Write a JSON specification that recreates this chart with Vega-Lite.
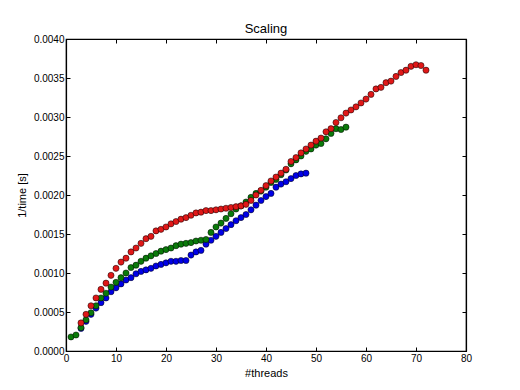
{
  "$schema": "https://vega.github.io/schema/vega-lite/v6.json",
  "autosize": {"type": "none"},
  "width": 400,
  "height": 312,
  "padding": {"left": 66, "top": 39, "right": 54, "bottom": 39},
  "background": "white",
  "title": {"text": "Scaling", "font": "Liberation Sans", "fontSize": 13, "fontWeight": "normal", "color": "#000", "offset": -2},
  "config": {
    "view": {"stroke": "#000", "strokeWidth": 1.2},
    "axis": {"grid": false, "domainColor": "#000", "tickColor": "#000", "labelColor": "#000", "titleColor": "#000",
             "labelFont": "Liberation Sans", "titleFont": "Liberation Sans", "labelFontSize": 10, "titleFontSize": 11,
             "titleFontWeight": "normal", "tickSize": -4, "domain": true, "domainWidth": 1.2}
  },
  "data": {"values": [
    {"s":"b","t":3,"v":0.00029},{"s":"b","t":4,"v":0.00038},{"s":"b","t":5,"v":0.00047},{"s":"b","t":6,"v":0.00055},{"s":"b","t":7,"v":0.00062},{"s":"b","t":8,"v":0.00068},{"s":"b","t":9,"v":0.00076},{"s":"b","t":10,"v":0.00081},{"s":"b","t":11,"v":0.00086},{"s":"b","t":12,"v":0.00091},{"s":"b","t":13,"v":0.00094},{"s":"b","t":14,"v":0.00099},{"s":"b","t":15,"v":0.00102},{"s":"b","t":16,"v":0.00104},{"s":"b","t":17,"v":0.00106},{"s":"b","t":18,"v":0.00109},{"s":"b","t":19,"v":0.00111},{"s":"b","t":20,"v":0.00113},{"s":"b","t":21,"v":0.00115},{"s":"b","t":22,"v":0.00115},{"s":"b","t":23,"v":0.00116},{"s":"b","t":24,"v":0.00116},{"s":"b","t":25,"v":0.00123},{"s":"b","t":26,"v":0.00127},{"s":"b","t":27,"v":0.00129},{"s":"b","t":28,"v":0.00137},{"s":"b","t":29,"v":0.00142},{"s":"b","t":30,"v":0.00147},{"s":"b","t":31,"v":0.00152},{"s":"b","t":32,"v":0.00157},{"s":"b","t":33,"v":0.00162},{"s":"b","t":34,"v":0.00167},{"s":"b","t":35,"v":0.00171},{"s":"b","t":36,"v":0.00175},{"s":"b","t":37,"v":0.00181},{"s":"b","t":38,"v":0.00187},{"s":"b","t":39,"v":0.00193},{"s":"b","t":40,"v":0.00198},{"s":"b","t":41,"v":0.00202},{"s":"b","t":42,"v":0.0021},{"s":"b","t":43,"v":0.00214},{"s":"b","t":44,"v":0.00217},{"s":"b","t":45,"v":0.00221},{"s":"b","t":46,"v":0.00225},{"s":"b","t":47,"v":0.00227},{"s":"b","t":48,"v":0.00228},
    {"s":"g","t":1,"v":0.00018},{"s":"g","t":2,"v":0.000205},{"s":"g","t":3,"v":0.0003},{"s":"g","t":4,"v":0.0004},{"s":"g","t":5,"v":0.00049},{"s":"g","t":6,"v":0.00058},{"s":"g","t":7,"v":0.00068},{"s":"g","t":8,"v":0.00074},{"s":"g","t":9,"v":0.00082},{"s":"g","t":10,"v":0.00088},{"s":"g","t":11,"v":0.00094},{"s":"g","t":12,"v":0.001},{"s":"g","t":13,"v":0.00107},{"s":"g","t":14,"v":0.0011},{"s":"g","t":15,"v":0.00115},{"s":"g","t":16,"v":0.00119},{"s":"g","t":17,"v":0.00122},{"s":"g","t":18,"v":0.00125},{"s":"g","t":19,"v":0.00128},{"s":"g","t":20,"v":0.0013},{"s":"g","t":21,"v":0.00132},{"s":"g","t":22,"v":0.00135},{"s":"g","t":23,"v":0.00137},{"s":"g","t":24,"v":0.00138},{"s":"g","t":25,"v":0.00139},{"s":"g","t":26,"v":0.00141},{"s":"g","t":27,"v":0.00142},{"s":"g","t":28,"v":0.00143},{"s":"g","t":29,"v":0.00152},{"s":"g","t":30,"v":0.00159},{"s":"g","t":31,"v":0.00164},{"s":"g","t":32,"v":0.0017},{"s":"g","t":33,"v":0.00176},{"s":"g","t":34,"v":0.00182},{"s":"g","t":35,"v":0.00186},{"s":"g","t":36,"v":0.00191},{"s":"g","t":37,"v":0.00197},{"s":"g","t":38,"v":0.00202},{"s":"g","t":39,"v":0.00205},{"s":"g","t":40,"v":0.0021},{"s":"g","t":41,"v":0.00216},{"s":"g","t":42,"v":0.0022},{"s":"g","t":43,"v":0.00226},{"s":"g","t":44,"v":0.00232},{"s":"g","t":45,"v":0.0024},{"s":"g","t":46,"v":0.00245},{"s":"g","t":47,"v":0.0025},{"s":"g","t":48,"v":0.00256},{"s":"g","t":49,"v":0.00259},{"s":"g","t":50,"v":0.00264},{"s":"g","t":51,"v":0.00266},{"s":"g","t":52,"v":0.00272},{"s":"g","t":53,"v":0.00279},{"s":"g","t":54,"v":0.00285},{"s":"g","t":55,"v":0.00284},{"s":"g","t":56,"v":0.00287},
    {"s":"r","t":3,"v":0.00036},{"s":"r","t":4,"v":0.00047},{"s":"r","t":5,"v":0.00058},{"s":"r","t":6,"v":0.00068},{"s":"r","t":7,"v":0.00079},{"s":"r","t":8,"v":0.00087},{"s":"r","t":9,"v":0.00097},{"s":"r","t":10,"v":0.00106},{"s":"r","t":11,"v":0.00114},{"s":"r","t":12,"v":0.00119},{"s":"r","t":13,"v":0.00127},{"s":"r","t":14,"v":0.00132},{"s":"r","t":15,"v":0.00138},{"s":"r","t":16,"v":0.00144},{"s":"r","t":17,"v":0.00147},{"s":"r","t":18,"v":0.00154},{"s":"r","t":19,"v":0.00156},{"s":"r","t":20,"v":0.00159},{"s":"r","t":21,"v":0.00163},{"s":"r","t":22,"v":0.00166},{"s":"r","t":23,"v":0.00169},{"s":"r","t":24,"v":0.00171},{"s":"r","t":25,"v":0.00174},{"s":"r","t":26,"v":0.00177},{"s":"r","t":27,"v":0.00178},{"s":"r","t":28,"v":0.0018},{"s":"r","t":29,"v":0.0018},{"s":"r","t":30,"v":0.00181},{"s":"r","t":31,"v":0.00182},{"s":"r","t":32,"v":0.00183},{"s":"r","t":33,"v":0.00184},{"s":"r","t":34,"v":0.00185},{"s":"r","t":35,"v":0.00186},{"s":"r","t":36,"v":0.00188},{"s":"r","t":37,"v":0.00193},{"s":"r","t":38,"v":0.002},{"s":"r","t":39,"v":0.00206},{"s":"r","t":40,"v":0.00212},{"s":"r","t":41,"v":0.00218},{"s":"r","t":42,"v":0.00223},{"s":"r","t":43,"v":0.00228},{"s":"r","t":44,"v":0.00233},{"s":"r","t":45,"v":0.00243},{"s":"r","t":46,"v":0.00248},{"s":"r","t":47,"v":0.00254},{"s":"r","t":48,"v":0.00259},{"s":"r","t":49,"v":0.00264},{"s":"r","t":50,"v":0.00269},{"s":"r","t":51,"v":0.00273},{"s":"r","t":52,"v":0.00281},{"s":"r","t":53,"v":0.00285},{"s":"r","t":54,"v":0.00293},{"s":"r","t":55,"v":0.00299},{"s":"r","t":56,"v":0.00305},{"s":"r","t":57,"v":0.00309},{"s":"r","t":58,"v":0.00313},{"s":"r","t":59,"v":0.00318},{"s":"r","t":60,"v":0.00323},{"s":"r","t":61,"v":0.00329},{"s":"r","t":62,"v":0.00336},{"s":"r","t":63,"v":0.00338},{"s":"r","t":64,"v":0.00344},{"s":"r","t":65,"v":0.00346},{"s":"r","t":66,"v":0.00352},{"s":"r","t":67,"v":0.00357},{"s":"r","t":68,"v":0.0036},{"s":"r","t":69,"v":0.00365},{"s":"r","t":70,"v":0.00367},{"s":"r","t":71,"v":0.00366},{"s":"r","t":72,"v":0.0036}
  ]},
  "layer": [
    {
      "mark": {"type": "circle", "size": 38, "opacity": 1, "stroke": "#000", "strokeWidth": 0.5},
      "encoding": {
        "x": {"field": "t", "type": "quantitative", "scale": {"domain": [0, 80], "nice": false, "zero": false},
              "axis": {"title": "#threads", "values": [0,10,20,30,40,50,60,70,80], "labelPadding": 6, "titlePadding": 4, "labelFlush": false}},
        "y": {"field": "v", "type": "quantitative", "scale": {"domain": [0, 0.004], "nice": false},
              "axis": {"title": "1/time [s]", "values": [0,0.0005,0.001,0.0015,0.002,0.0025,0.003,0.0035,0.004], "format": ".4f", "labelPadding": 6, "titlePadding": 6, "labelFlush": false}},
        "color": {"field": "s", "type": "nominal", "scale": {"domain": ["b","g","r"], "range": ["#0000e6","#0a7a0a","#e01818"]}, "legend": null}
      }
    },
    {
      "mark": {"type": "circle", "opacity": 0},
      "encoding": {
        "x": {"field": "t", "type": "quantitative", "scale": {"domain": [0, 80], "nice": false, "zero": false},
              "axis": {"orient": "top", "title": null, "labels": false, "values": [0,10,20,30,40,50,60,70,80]}},
        "y": {"field": "v", "type": "quantitative", "scale": {"domain": [0, 0.004], "nice": false},
              "axis": {"orient": "right", "title": null, "labels": false, "values": [0,0.0005,0.001,0.0015,0.002,0.0025,0.003,0.0035,0.004]}}
      }
    }
  ],
  "resolve": {"axis": {"x": "independent", "y": "independent"}}
}
